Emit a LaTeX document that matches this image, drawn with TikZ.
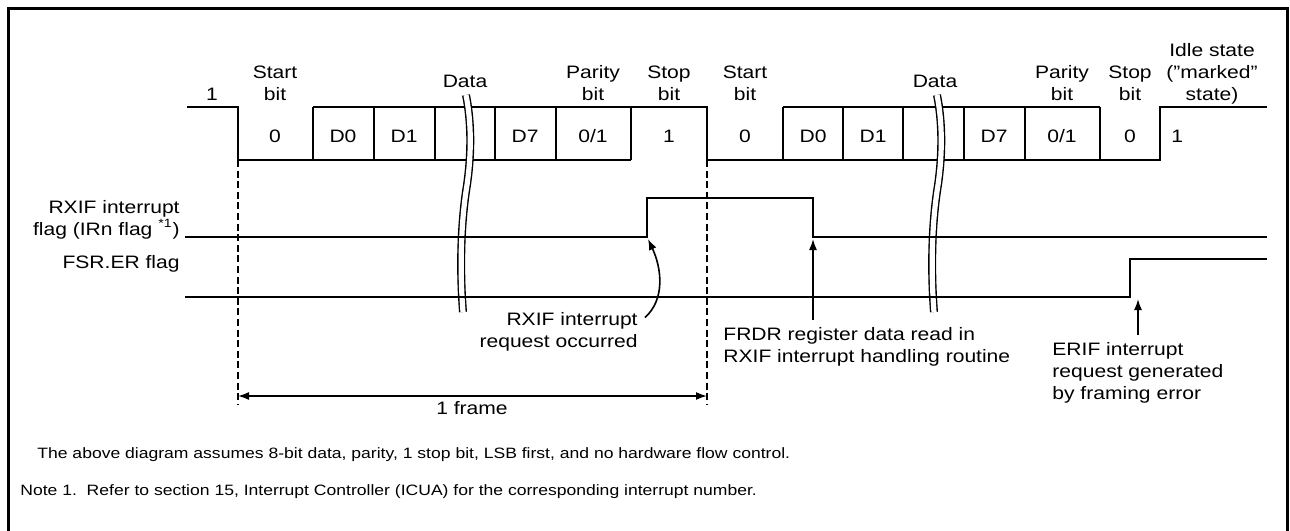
\documentclass[tikz,border=0pt]{standalone}
\usepackage{fontspec}
\setmainfont{Liberation Sans}[FakeStretch=1.17]
\usetikzlibrary{arrows.meta,positioning}

\tikzset{
  sig/.style={line width=1pt},
  brk/.style={line width=0.7pt,double=white,double distance=2.6pt},
  guide/.style={line width=1.2pt,dash pattern=on 3.5pt off 1.8pt},
  arr/.style={line width=0.8pt,-{Latex[length=5.5pt,width=4pt]}},
  lbl/.style={align=center,inner sep=0pt,anchor=base},
  note/.style={inner sep=0pt,anchor=base west},
}

\begin{document}
\begin{tikzpicture}[x=0.5pt,y=-0.5pt,
  every node/.style={font=\fontsize{9pt}{11pt}\selectfont}]
  \useasboundingbox (0,0) rectangle (1290,530);

  % outer frame
  \draw[line width=1.4pt] (8.7,540) -- (8.7,8.7) -- (1287.5,8.7) -- (1287.5,540);

  % serial data line
  \draw[sig] (187,107) -| (238,160) -- (631,160);
  \draw[sig] (313,107) -- (707,107) -- (707,160) -- (1160,160) |- (1267,107);
  \draw[sig] (783,107) -- (1100,107);
  \foreach \x in {313,374,435,495,556,631,783,843,903,964,1025,1100}
    \draw[sig] (\x,107) -- (\x,160);

  % bit values
  \foreach \x/\t in {275/0,343/D0,404/D1,525/D7,593/0\slash 1,669/1,
                     745/0,813/D0,873/D1,994/D7,1062/0\slash 1,1130/0}
    \node[lbl] at (\x,142) {\t};
  \node[note] (idle1) at (1171,142) {1};
  \node[lbl] (mark1) at (212,100) {1};

  % break marks
  \foreach \bx in {0,471}
    \draw[brk] (466+\bx,95) .. controls (471+\bx,120) and (472+\bx,150) .. (467+\bx,185)
      .. controls (462+\bx,215) and (459+\bx,260) .. (463+\bx,312);

  % field names
  \node[lbl] (start1) at (275,100) {Start\\bit};
  \node[lbl] (data1) at (465,87) {Data};
  \node[lbl] (par1) at (593,100) {Parity\\bit};
  \node[lbl] (stop1) at (669,100) {Stop\\bit};
  \node[lbl] (start2) at (745,100) {Start\\bit};
  \node[lbl] (data2) at (935,87) {Data};
  \node[lbl] (par2) at (1062,100) {Parity\\bit};
  \node[lbl] (stop2) at (1130,100) {Stop\\bit};
  \node[lbl] (idle) at (1212,100) {Idle state\\("marked"\\state)};

  % flags
  \node[lbl,align=right,anchor=base east] (rxif) at (180,235)
    {RXIF interrupt\\flag (IRn flag~\textsuperscript{*1})};
  \node[lbl,anchor=base east] (fsrer) at (180,268) {FSR.ER flag};
  \draw[sig] (185,237) -- (647,237) -- (647,198) -- (813,198) -- (813,237) -- (1267,237);
  \draw[sig] (185,297) -- (1130,297) -- (1130,259) -- (1267,259);

  % frame guides
  \draw[guide] (238,160) -- (238,405);
  \draw[guide] (707,160) -- (707,405);
  \coordinate (fra) at (238,396);
  \coordinate (frb) at (707,396);
  \draw[line width=0.8pt,{Latex[length=5.5pt,width=4pt]}-{Latex[length=5.5pt,width=4pt]}] (fra) -- (frb);
  \node[lbl] (frame) at (472,414) {1 frame};

  % annotations
  \coordinate (rxifup) at (648,239);
  \coordinate (frdrup) at (813,239);
  \coordinate (frdrtail) at (813,320);
  \coordinate (erifup) at (1138,299);
  \coordinate (eriftail) at (1138,335);
  \node[lbl,align=right,anchor=base east] (rxifnote) at (638,347)
    {RXIF interrupt\\request occurred};
  \node[lbl,align=left,anchor=base west] (frdrnote) at (723,362)
    {FRDR register data read in\\RXIF interrupt handling routine};
  \node[lbl,align=left,anchor=base west] (erifnote) at (1052,399)
    {ERIF interrupt\\request generated\\by framing error};
  \draw[arr] ([shift={(7,6)}]rxifnote.north east) .. controls +(20,-18) and +(14,30) .. (rxifup);
  \draw[arr] (frdrtail) -- (frdrup);
  \draw[arr] (eriftail) -- (erifup);

  % footnotes
  \node[note,font=\fontsize{7.5pt}{9pt}\selectfont] (assume) at (37,458)
    {The above diagram assumes 8-bit data, parity, 1 stop bit, LSB first, and no hardware flow control.};
  \node[note,font=\fontsize{7.5pt}{9pt}\selectfont] (note1) at (20,495)
    {Note 1.\ \ Refer to section 15, Interrupt Controller (ICUA) for the corresponding interrupt number.};
\end{tikzpicture}
\end{document}
